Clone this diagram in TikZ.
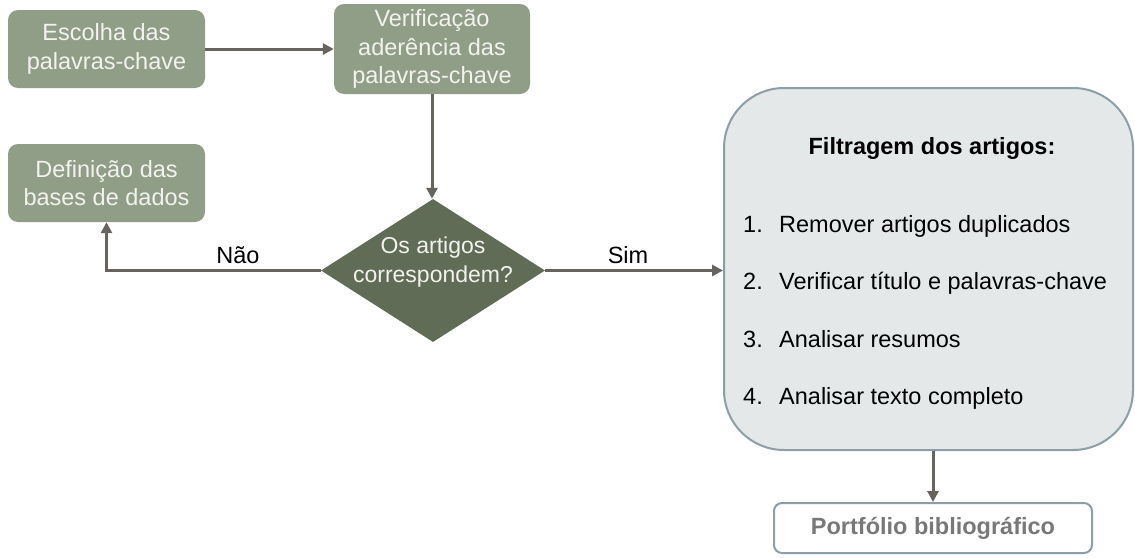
\documentclass[tikz,border=0pt]{standalone}
\usepackage{fontspec}
\setmainfont{Liberation Sans}
\usetikzlibrary{arrows.meta,shapes.geometric}
\definecolor{boxgreen}{RGB}{145,158,135}
\definecolor{decgreen}{RGB}{96,108,86}
\definecolor{arrowgray}{RGB}{103,99,93}
\definecolor{filtfill}{RGB}{228,232,233}
\definecolor{filtborder}{RGB}{140,158,166}
\definecolor{boxtext}{RGB}{242,242,238}
\definecolor{porttext}{RGB}{120,120,120}
\tikzset{
  greenbox/.style={rectangle, rounded corners=10pt, fill=boxgreen, text=boxtext, align=center,
    inner sep=0pt, font=\fontsize{23.5}{28.5}\selectfont},
  conn/.style={draw=arrowgray, line width=3pt, -{Triangle[length=11pt,width=11pt]}},
  lbl/.style={font=\fontsize{23.5}{28}\selectfont, text=black},
  itemtxt/.style={font=\fontsize{23.5}{28}\selectfont, text=black, anchor=base west, inner sep=0pt},
}
\begin{document}
\begin{tikzpicture}[x=1pt,y=-1pt]
\useasboundingbox (0,0) rectangle (1135,557);
% boxes
\node[greenbox, minimum width=197pt, minimum height=78pt] (esc) at (106.5,49) {Escolha das\\palavras-chave};
\node[greenbox, minimum width=196pt, minimum height=90pt] (ver) at (432,49) {Verificação\\aderência das\\palavras-chave};
\node[greenbox, minimum width=197pt, minimum height=78pt] (def) at (106.5,183) {Definição das\\bases de dados};
\node[diamond, fill=decgreen, minimum width=224pt, minimum height=143pt, inner sep=0pt] (dec) at (433,270.5) {};
\node[text=boxtext, align=center, font=\fontsize{23}{28.5}\selectfont] (dectext) at (433,262) {Os artigos\\correspondem?};
\node[rectangle, rounded corners=60pt, fill=filtfill, draw=filtborder, line width=2pt,
  minimum width=409pt, minimum height=362pt] (filt) at (928.5,269) {};
\node[rectangle, rounded corners=8pt, fill=white, draw=filtborder, line width=2pt,
  minimum width=318pt, minimum height=50pt, text=porttext,
  font=\fontsize{23.5}{28}\bfseries\selectfont] (port) at (933,528) {Portfólio bibliográfico};
% text in filter box
\node[font=\fontsize{23.5}{28}\bfseries\selectfont, anchor=base, inner sep=0pt] (ftitle) at (932,154) {Filtragem dos artigos:};
\node[itemtxt] (n1) at (743,232) {1.};
\node[itemtxt] (t1) at (779,232) {Remover artigos duplicados};
\node[itemtxt] (n2) at (743,289) {2.};
\node[itemtxt] (t2) at (779,289) {Verificar título e palavras-chave};
\node[itemtxt] (n3) at (743,347) {3.};
\node[itemtxt] (t3) at (779,347) {Analisar resumos};
\node[itemtxt] (n4) at (743,404) {4.};
\node[itemtxt] (t4) at (779,404) {Analisar texto completo};
% connectors
\draw[conn] (esc.east) -- (ver.west);
\draw[conn] (ver.south) -- (ver.south |- dec.north);
\draw[conn] (dec.west) -| (def.south);
\draw[conn] (dec.east) -- (dec.east -| filt.west);
\draw[conn] (port.north |- filt.south) -- (port.north);
% labels
\node[lbl, anchor=base] (nao) at (238,263) {Não};
\node[lbl, anchor=base] (sim) at (628,263) {Sim};
\end{tikzpicture}
\end{document}
